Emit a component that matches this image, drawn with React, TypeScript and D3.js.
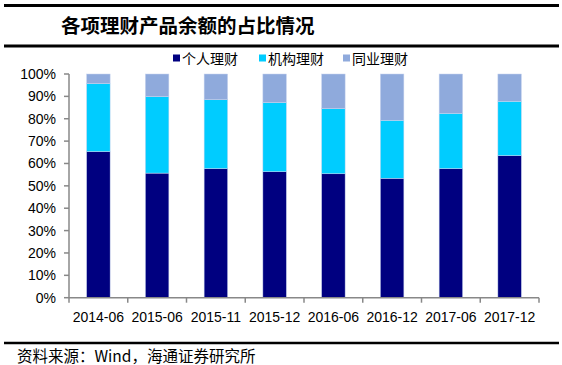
import React from 'react';
import * as d3 from 'd3';

// 数据（单位：%）
const categories = ['2014-06', '2015-06', '2015-11', '2015-12', '2016-06', '2016-12', '2017-06', '2017-12'];
const seriesNames = ['个人理财', '机构理财', '同业理财'];
const personal = [65.3, 55.7, 57.7, 56.3, 55.4, 53.4, 57.7, 63.5];
const institutional = [30.4, 34.2, 30.8, 30.9, 29.1, 25.9, 24.7, 24.3];
const interbank = [4.3, 10.1, 11.5, 12.8, 15.5, 20.7, 17.6, 12.2];
const yTicks = [0, 10, 20, 30, 40, 50, 60, 70, 80, 90, 100];
const colors = ['#000080', '#00CCFF', '#8FAADC'];

const W = 562;
const H = 365;
const plot = { left: 69, right: 539, top: 74, bottom: 297.7 };
const latin = '"Liberation Sans", Arial, sans-serif';
const cjk = '"Noto Sans CJK SC", "Noto Sans", sans-serif';

function App() {
  const rows = categories.map((c, i) => ({
    cat: c,
    [seriesNames[0]]: personal[i],
    [seriesNames[1]]: institutional[i],
    [seriesNames[2]]: interbank[i],
  }));
  const stacked = d3.stack<any>().keys(seriesNames)(rows);

  const x = d3.scaleBand().domain(categories).range([plot.left, plot.right]).paddingInner(0.6).paddingOuter(0.3);
  const y = d3.scaleLinear().domain([0, 100]).range([plot.bottom, plot.top]);
  const step = x.step();
  const axisColor = '#888888';

  const legendX = [173, 259, 343];

  return (
    <div style={{ position: 'absolute', left: 0, top: 0 }}>
      <svg width={W} height={H} style={{ display: 'block', background: '#fff' }}>
        {/* rules */}
        <line x1={4} x2={559} y1={5.5} y2={5.5} stroke="#000" strokeWidth={3} />
        <line x1={4} x2={559} y1={46} y2={46} stroke="#000" strokeWidth={3} />
        <line x1={4} x2={559} y1={343} y2={343} stroke="#000" strokeWidth={2.5} />

        <text x={61} y={24} dominantBaseline="central" fontFamily={cjk} fontWeight="bold" fontSize={19.5} fill="#000">
          各项理财产品余额的占比情况
        </text>

        {/* legend */}
        {seriesNames.map((s, i) => (
          <g key={s}>
            <rect x={legendX[i]} y={54.5} width={7} height={7} fill={colors[i]} />
            <text x={legendX[i] + 9} y={58} dominantBaseline="central" fontFamily={cjk} fontSize={14} fill="#000">
              {s}
            </text>
          </g>
        ))}

        {/* bars */}
        {stacked.map((layer, si) => (
          <g key={layer.key} fill={colors[si]}>
            {layer.map((d, i) => (
              <rect
                key={i}
                x={x(categories[i])}
                y={y(d[1])}
                width={x.bandwidth()}
                height={y(d[0]) - y(d[1])}
                stroke="#c8d4ee"
                strokeWidth={0.5}
              />
            ))}
          </g>
        ))}

        {/* y axis */}
        <line x1={plot.left} x2={plot.left} y1={plot.top} y2={plot.bottom} stroke={axisColor} strokeWidth={1.5} />
        {yTicks.map((t) => (
          <g key={t}>
            <line x1={plot.left - 5} x2={plot.left} y1={y(t)} y2={y(t)} stroke={axisColor} strokeWidth={1.5} />
            <text x={56} y={y(t)} textAnchor="end" dominantBaseline="central" fontFamily={latin} fontSize={14} fill="#000">
              {t}%
            </text>
          </g>
        ))}

        {/* x axis */}
        <line x1={plot.left} x2={plot.right} y1={plot.bottom} y2={plot.bottom} stroke={axisColor} strokeWidth={1.5} />
        {d3.range(categories.length + 1).map((i) => (
          <line
            key={i}
            x1={plot.left + i * step}
            x2={plot.left + i * step}
            y1={plot.bottom}
            y2={plot.bottom + 5}
            stroke={axisColor}
            strokeWidth={1.5}
          />
        ))}
        {categories.map((c) => (
          <text
            key={c}
            x={(x(c) as number) + x.bandwidth() / 2}
            y={317}
            textAnchor="middle"
            dominantBaseline="central"
            fontFamily={latin}
            fontSize={14}
            fill="#000"
          >
            {c}
          </text>
        ))}

        <text x={17} y={355} dominantBaseline="central" fontFamily={cjk} fontSize={15.5} fill="#000">
          资料来源：Wind，海通证券研究所
        </text>
      </svg>
    </div>
  );
}

export default App;
